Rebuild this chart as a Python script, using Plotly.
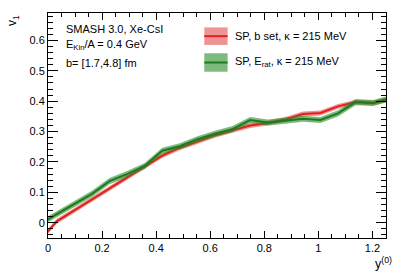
import plotly.graph_objects as go

# Rapidity bin centres (bins of width 0.065)
y0 = [-0.0325, 0.0325, 0.0975, 0.1625, 0.2275, 0.2925, 0.3575, 0.4225, 0.4875,
      0.5525, 0.6175, 0.6825, 0.7475, 0.8125, 0.8775, 0.9425, 1.0075, 1.0725,
      1.1375, 1.2025, 1.2675]

v1_bset = [-0.060, 0.005, 0.041, 0.077, 0.113, 0.150, 0.185, 0.221, 0.247,
           0.268, 0.288, 0.304, 0.320, 0.328, 0.340, 0.358, 0.361, 0.383,
           0.397, 0.394, 0.408]
err_bset = [0.008] * 21

v1_erat = [-0.005, 0.028, 0.060, 0.095, 0.137, 0.160, 0.187, 0.237, 0.252,
           0.275, 0.293, 0.308, 0.338, 0.330, 0.336, 0.342, 0.338, 0.360,
           0.397, 0.394, 0.410]
err_erat = [0.010] * 21

x_ticks = [0, 0.2, 0.4, 0.6, 0.8, 1.0, 1.2]
x_ticktext = ["0", "0.2", "0.4", "0.6", "0.8", "1", "1.2"]
y_ticks = [0, 0.1, 0.2, 0.3, 0.4, 0.5, 0.6]
y_ticktext = ["0", "0.1", "0.2", "0.3", "0.4", "0.5", "0.6"]

label_bset = "SP, b set, κ = 215 MeV"
label_erat = "SP, E<sub>rat</sub>, κ = 215 MeV"
info_lines = ["SMASH 3.0, Xe-CsI", "E<sub>Kin</sub>/A = 0.4 GeV", "b= [1.7,4.8] fm"]

RED_LINE = "#e3201b"
RED_BAND = "rgba(226,60,60,0.55)"
GREEN_LINE = "#1e7a1e"
GREEN_BAND = "rgba(40,140,40,0.6)"
FONT = "Liberation Sans, Arial, sans-serif"

fig = go.Figure()


def add_series(vals, errs, line_col, band_col):
    up = [v + e for v, e in zip(vals, errs)]
    lo = [v - e for v, e in zip(vals, errs)]
    fig.add_trace(go.Scatter(x=y0, y=lo, mode="lines", line=dict(width=0),
                             showlegend=False, hoverinfo="skip"))
    fig.add_trace(go.Scatter(x=y0, y=up, mode="lines", line=dict(width=0),
                             fill="tonexty", fillcolor=band_col,
                             showlegend=False, hoverinfo="skip"))
    fig.add_trace(go.Scatter(x=y0, y=vals, mode="lines",
                             line=dict(color=line_col, width=2),
                             showlegend=False))


add_series(v1_bset, err_bset, RED_LINE, RED_BAND)
add_series(v1_erat, err_erat, GREEN_LINE, GREEN_BAND)

axis_common = dict(
    showgrid=False, zeroline=False, showline=True, linecolor="black",
    linewidth=1, mirror="allticks", ticks="inside", tickcolor="black",
    tickwidth=1, tickfont=dict(family=FONT, size=11, color="black"),
)

fig.update_xaxes(range=[0, 1.25], tickvals=x_ticks, ticktext=x_ticktext,
                 ticklen=7,
                 minor=dict(ticks="inside", ticklen=4, dtick=0.05,
                            tick0=0, tickcolor="black", showgrid=False),
                 **axis_common)
fig.update_yaxes(range=[-0.05, 0.69], tickvals=y_ticks, ticktext=y_ticktext,
                 ticklen=10,
                 minor=dict(ticks="inside", ticklen=5, dtick=0.02,
                            tick0=0, tickcolor="black", showgrid=False),
                 **axis_common)

shapes = []
# legend swatches
for (y_lo, y_hi, y_mid, band, line) in [
        (0.858, 0.936, 0.897, RED_BAND, RED_LINE),
        (0.739, 0.821, 0.780, GREEN_BAND, GREEN_LINE)]:
    shapes.append(dict(type="rect", xref="paper", yref="paper",
                       x0=0.4624, x1=0.5314, y0=y_lo, y1=y_hi,
                       fillcolor=band, line=dict(width=0)))
    shapes.append(dict(type="line", xref="paper", yref="paper",
                       x0=0.4624, x1=0.5314, y0=y_mid, y1=y_mid,
                       line=dict(color=line, width=2)))

annotations = []
for txt, ym in [(label_bset, 0.897), (label_erat, 0.780)]:
    annotations.append(dict(text=txt, xref="paper", yref="paper", x=0.546,
                            y=ym, xanchor="left", yanchor="middle",
                            showarrow=False,
                            font=dict(family=FONT, size=11, color="black")))
for txt, ym in zip(info_lines, [0.928, 0.858, 0.776]):
    annotations.append(dict(text=txt, xref="paper", yref="paper", x=0.046,
                            y=ym, xanchor="left", yanchor="middle",
                            showarrow=False,
                            font=dict(family=FONT, size=11, color="black")))
# axis titles
annotations.append(dict(text="v<sub>1</sub>", xref="paper", yref="paper",
                        x=-0.105, y=1.0, xanchor="center", yanchor="top",
                        textangle=-90, showarrow=False,
                        font=dict(family=FONT, size=12, color="black")))
annotations.append(dict(text="y<sup>(0)</sup>", xref="paper", yref="paper",
                        x=1.025, y=-0.065, xanchor="right", yanchor="top",
                        showarrow=False,
                        font=dict(family=FONT, size=12.5, color="black")))

fig.update_layout(
    width=399, height=272,
    margin=dict(l=48, r=13, t=13, b=34),
    paper_bgcolor="white", plot_bgcolor="white",
    showlegend=False, shapes=shapes, annotations=annotations,
    font=dict(family=FONT, size=11, color="black"),
)

fig.write_html("out.html",
               config={"displayModeBar": False, "staticPlot": True},
               post_script="document.body.style.margin='0';"
                           "document.body.style.overflow='hidden';")
